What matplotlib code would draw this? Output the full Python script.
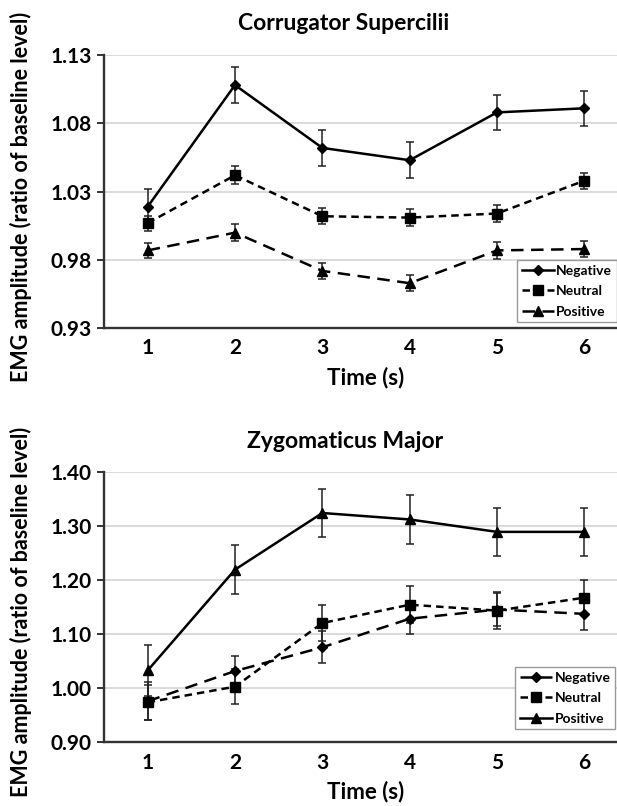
import matplotlib
matplotlib.use("Agg")
import matplotlib.pyplot as plt

plt.rcParams['font.family'] = ['Lato', 'DejaVu Sans']
plt.rcParams['font.weight'] = 'bold'

# --- dati ---
time = [1, 2, 3, 4, 5, 6]

# Corrugator Supercilii
cs_negative = [1.019, 1.108, 1.062, 1.053, 1.088, 1.091]
cs_negative_err = [0.013, 0.013, 0.013, 0.013, 0.013, 0.013]
cs_neutral = [1.007, 1.042, 1.012, 1.011, 1.014, 1.038]
cs_neutral_err = [0.0055, 0.0065, 0.006, 0.006, 0.006, 0.006]
cs_positive = [0.987, 1.000, 0.972, 0.963, 0.987, 0.988]
cs_positive_err = [0.0055, 0.006, 0.0057, 0.0057, 0.006, 0.006]
cs_ticks = [0.93, 0.98, 1.03, 1.08, 1.13]

# Zygomaticus Major
zm_negative = [0.975, 1.031, 1.075, 1.128, 1.145, 1.137]
zm_negative_err = [0.035, 0.027, 0.030, 0.029, 0.030, 0.029]
zm_neutral = [0.973, 1.002, 1.120, 1.154, 1.143, 1.167]
zm_neutral_err = [0.033, 0.033, 0.033, 0.034, 0.034, 0.033]
zm_positive = [1.032, 1.219, 1.324, 1.312, 1.289, 1.289]
zm_positive_err = [0.047, 0.045, 0.045, 0.045, 0.045, 0.045]
zm_ticks = [0.90, 1.00, 1.10, 1.20, 1.30, 1.40]

labels = ['Negative', 'Neutral', 'Positive']

SOLID = '-'
SHORT = (0, (3, 2))
LONG = (0, (5, 3))

W, H = 617, 806


def draw_panel(ax, series, styles, ticks, leg_anchor, tick_pad):
    for (y, err), (ls, mk, ms) in zip(series, styles):
        ax.errorbar(time, y, yerr=err, fmt='none', ecolor='#222222',
                    elinewidth=1.1, capsize=2.6, capthick=1.1, zorder=3)
    handles = []
    for (y, err), (ls, mk, ms), lab in zip(series, styles, labels):
        h, = ax.plot(time, y, linestyle=ls, color='black', lw=1.8,
                     marker=mk, markersize=ms, markerfacecolor='black',
                     markeredgecolor='black', label=lab, zorder=4)
        handles.append(h)
    ax.set_xlim(0.5, 6.5)
    ax.set_ylim(ticks[0], ticks[-1])
    ax.set_xticks(time)
    ax.set_yticks(ticks)
    ax.set_yticklabels([f'{t:.2f}' for t in ticks])
    ax.yaxis.grid(True, color='#d4d4d4', lw=1.2)
    ax.set_axisbelow(True)
    for s in ['top', 'right']:
        ax.spines[s].set_visible(False)
    for s in ['left', 'bottom']:
        ax.spines[s].set_color('#333333')
        ax.spines[s].set_linewidth(1.7)
    ax.tick_params(axis='x', length=0, pad=tick_pad, labelsize=15)
    ax.tick_params(axis='y', length=5, width=1.4, color='#333333', pad=4,
                   labelsize=15)
    ax.set_xlabel('Time (s)', fontsize=16, fontweight='bold')
    ax.set_ylabel('EMG amplitude (ratio of baseline level)', fontsize=15.5,
                  fontweight='bold')
    leg = ax.legend(handles=handles, loc='upper left', bbox_to_anchor=leg_anchor,
                    fontsize=10, frameon=True, fancybox=False, edgecolor='#999999',
                    framealpha=1, borderpad=0.35, labelspacing=0.6,
                    handlelength=2.3, handletextpad=0.2, numpoints=1,
                    borderaxespad=0)
    leg.get_frame().set_linewidth(1.0)
    return ax


fig = plt.figure(figsize=(W / 100, H / 100), dpi=100)

left = 104 / W
width = (628 - 104) / W

# pannello superiore
ax1 = fig.add_axes([left, 1 - 328.3 / H, width, (328.3 - 55) / H])
draw_panel(ax1,
           [(cs_negative, cs_negative_err), (cs_neutral, cs_neutral_err),
            (cs_positive, cs_positive_err)],
           [(SOLID, 'D', 5), (SHORT, 's', 7.5), (LONG, '^', 7)],
           cs_ticks, (0.7876, 0.25), 7)
ax1.xaxis.set_label_coords(0.5, -0.14)
ax1.yaxis.set_label_coords(-0.138, 0.48)
fig.text(344 / W, 1 - 23 / H, 'Corrugator Supercilii', ha='center', va='center',
         fontsize=16.5, fontweight='bold')

# pannello inferiore
ax2 = fig.add_axes([left, 1 - 741.7 / H, width, (741.7 - 472) / H])
draw_panel(ax2,
           [(zm_negative, zm_negative_err), (zm_neutral, zm_neutral_err),
            (zm_positive, zm_positive_err)],
           [(LONG, 'D', 5), (SHORT, 's', 7.5), (SOLID, '^', 7)],
           zm_ticks, (0.784, 0.277), 8)
ax2.xaxis.set_label_coords(0.5, -0.145)
ax2.yaxis.set_label_coords(-0.138, 0.48)
fig.text(345 / W, 1 - 442 / H, 'Zygomaticus Major', ha='center', va='center',
         fontsize=16.5, fontweight='bold')

fig.savefig('out.png', dpi=100)
